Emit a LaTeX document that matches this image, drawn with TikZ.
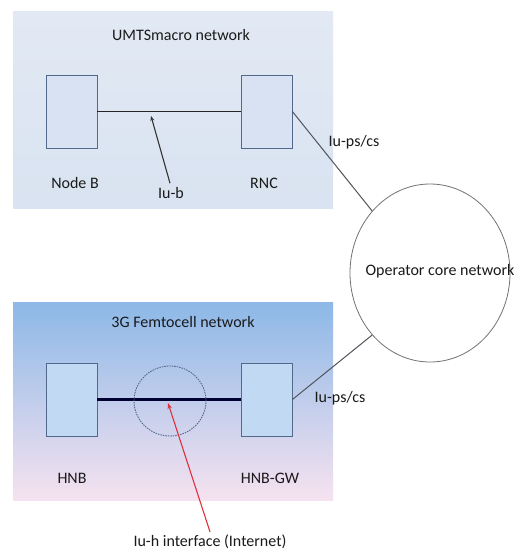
\documentclass[tikz,border=0pt]{standalone}
\usepackage{fontspec}
\setmainfont{Carlito}
\usetikzlibrary{shapes.geometric,arrows.meta}
\definecolor{macroTop}{HTML}{E2E9F4}
\definecolor{macroMid}{HTML}{C8D6EC}
\definecolor{macroBot}{HTML}{D9E3F1}
\definecolor{femtoTop}{HTML}{8CB8E7}
\definecolor{femtoMid}{HTML}{B3CFF0}
\definecolor{femtoBot}{HTML}{F6E2F0}
\definecolor{boxEdge}{HTML}{53698C}
\definecolor{inkText}{HTML}{1A1A1A}
\definecolor{linkGrey}{HTML}{50555C}
\definecolor{arrowRed}{HTML}{E0303C}
\tikzset{
  x=1pt, y=-1pt,
  lbl/.style={text=inkText, font=\fontsize{16}{18}\selectfont, inner sep=0pt},
  elem/.style={draw=boxEdge, line width=0.8pt, minimum width=51pt, minimum height=73pt, inner sep=0pt},
  link/.style={draw=linkGrey, line width=1pt},
}
\begin{document}
\begin{tikzpicture}
\useasboundingbox (0,0) rectangle (522,551);
\fill[white] (0,0) rectangle (522,551);

% network areas
\shade[top color=macroTop, middle color=macroMid, bottom color=macroBot] (13,12) rectangle (333,208);
\shade[top color=femtoTop, middle color=femtoMid, bottom color=femtoBot] (13,302) rectangle (333,500);

\node[lbl] (tmacro) at (181,35) {UMTSmacro network};
\node[lbl] (tfemto) at (183,322) {3G Femtocell network};

% UMTS macro elements
\node[elem, fill=macroMid!70!white] (nodeb) at (71.5,111.5) {};
\node[elem, fill=macroMid!70!white] (rnc) at (266.5,111.5) {};
\node[lbl] (lnodeb) at (75,183) {Node B};
\node[lbl] (lrnc) at (264,183) {RNC};
\draw[line width=1.8pt, draw=black!85] (nodeb.east) -- (rnc.west);

\coordinate (iubtip) at (151,116);
\node[lbl] (liub) at (171,193) {Iu-b};
\draw[line width=1.1pt, draw=black!80, -{Stealth[length=5pt,width=4pt]}] (liub.north) ++(-1,-4) -- (iubtip);

% femtocell elements
\node[elem, fill=femtoMid!80!white] (hnb) at (71.5,399.5) {};
\node[elem, fill=femtoMid!80!white] (hnbgw) at (266.5,399.5) {};
\node[lbl] (lhnb) at (72,478) {HNB};
\node[lbl] (lhnbgw) at (270,478) {HNB-GW};
\draw[line width=3.2pt, draw=black!80!blue] (hnb.east) -- (hnbgw.west);
\node[draw=boxEdge, dash pattern=on 1.5pt off 1pt, line width=0.9pt, ellipse,
      minimum width=72pt, minimum height=70pt, inner sep=0pt] (iuh) at (170,401) {};

\node[lbl] (liuh) at (210,542) {Iu-h interface (Internet)};
\coordinate (iuhtip) at (168,403);
\draw[line width=1.1pt, draw=arrowRed, -{Stealth[length=6pt,width=4.5pt]}] (liuh.north) ++(0,-3) -- (iuhtip);

% operator core
\node[ellipse, draw=black!55, line width=0.8pt, fill=white,
      minimum width=160pt, minimum height=178pt, inner sep=0pt] (core) at (430,273) {};
\node[lbl] (lcore) at (440,271) {Operator core network};

\draw[link] (rnc.east) -- (core.133);
\draw[link] (hnbgw.east) -- (core.227);
\node[lbl] (liups1) at (354,142) {Iu-ps/cs};
\node[lbl] (liups2) at (340,398) {Iu-ps/cs};
\end{tikzpicture}
\end{document}
